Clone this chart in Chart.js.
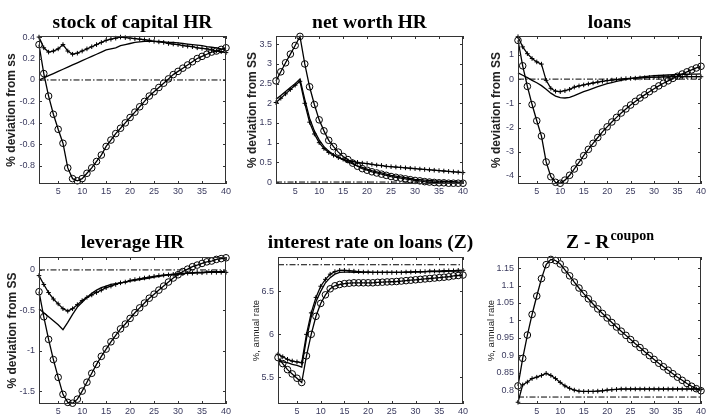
<!DOCTYPE html>
<html>
<head>
<meta charset="utf-8">
<script src="https://cdn.jsdelivr.net/npm/chart.js@4.4.1/dist/chart.umd.min.js"></script>
<style>
  body { margin: 0; background: #fff; }
  #wrap { position: relative; width: 706px; height: 414px; }
  #wrap canvas { position: absolute; left: 0; top: 0; }
</style>
</head>
<body>
<div id="wrap">
  <canvas id="c1" width="706" height="414"></canvas>
  <canvas id="c2" width="706" height="414"></canvas>
  <canvas id="c3" width="706" height="414"></canvas>
  <canvas id="c4" width="706" height="414"></canvas>
  <canvas id="c5" width="706" height="414"></canvas>
  <canvas id="c6" width="706" height="414"></canvas>
</div>
<script>
// quarters after the shock
const periods = [1,2,3,4,5,6,7,8,9,10,11,12,13,14,15,16,17,18,19,20,
                 21,22,23,24,25,26,27,28,29,30,31,32,33,34,35,36,37,38,39,40];
const xTicks = [5, 10, 15, 20, 25, 30, 35, 40];

// stock of capital HR
const capPlain = [0.00,0.02,0.04,0.06,0.08,0.10,0.12,0.14,0.16,0.18,0.20,0.22,0.24,0.26,0.28,0.29,0.30,0.32,0.33,0.34,
                  0.35,0.355,0.36,0.36,0.36,0.36,0.355,0.35,0.35,0.345,0.34,0.335,0.33,0.325,0.32,0.31,0.305,0.30,0.29,0.285];
const capPlus  = [0.40,0.30,0.26,0.27,0.29,0.33,0.27,0.24,0.25,0.27,0.29,0.31,0.33,0.35,0.37,0.38,0.39,0.40,0.395,0.39,
                  0.385,0.38,0.375,0.37,0.36,0.355,0.35,0.34,0.335,0.33,0.32,0.315,0.31,0.30,0.295,0.29,0.28,0.27,0.265,0.255];
const capCirc  = [0.33,0.06,-0.15,-0.32,-0.46,-0.59,-0.82,-0.92,-0.94,-0.92,-0.87,-0.82,-0.76,-0.70,-0.62,-0.56,-0.50,-0.45,-0.40,-0.35,
                  -0.30,-0.25,-0.20,-0.15,-0.11,-0.07,-0.03,0.01,0.05,0.08,0.11,0.14,0.17,0.20,0.22,0.24,0.26,0.27,0.285,0.30];

// net worth HR
const nwPlain = [2.10,2.20,2.30,2.40,2.50,2.62,2.10,1.62,1.30,1.07,0.90,0.78,0.70,0.63,0.57,0.51,0.46,0.41,0.37,0.33,
                 0.29,0.26,0.23,0.20,0.17,0.15,0.13,0.11,0.09,0.07,0.06,0.05,0.04,0.03,0.02,0.02,0.01,0.01,0.00,0.00];
const nwPlus  = [2.02,2.13,2.24,2.35,2.46,2.56,2.00,1.52,1.22,1.00,0.85,0.75,0.68,0.62,0.58,0.54,0.52,0.50,0.48,0.47,
                 0.45,0.43,0.42,0.40,0.39,0.38,0.37,0.36,0.35,0.34,0.33,0.32,0.31,0.30,0.29,0.28,0.27,0.26,0.25,0.24];
const nwCirc  = [2.57,2.80,3.03,3.25,3.47,3.70,3.00,2.42,1.97,1.58,1.30,1.06,0.90,0.76,0.65,0.57,0.48,0.40,0.34,0.30,
                 0.26,0.23,0.20,0.17,0.14,0.12,0.10,0.08,0.06,0.04,0.03,0.01,0.00,-0.01,-0.02,-0.02,-0.03,-0.03,-0.03,-0.03];

// loans
const lnPlain = [0.26,0.16,0.06,-0.05,-0.15,-0.27,-0.42,-0.58,-0.70,-0.76,-0.78,-0.75,-0.68,-0.60,-0.52,-0.45,-0.38,-0.31,-0.25,-0.19,
                 -0.14,-0.09,-0.05,-0.01,0.02,0.05,0.08,0.10,0.12,0.14,0.15,0.16,0.17,0.18,0.19,0.20,0.20,0.21,0.21,0.22];
const lnPlus  = [1.75,1.33,1.05,0.85,0.71,0.62,-0.05,-0.38,-0.50,-0.52,-0.48,-0.42,-0.33,-0.28,-0.24,-0.20,-0.16,-0.12,-0.09,-0.06,
                 -0.04,-0.02,0.00,0.02,0.03,0.04,0.05,0.06,0.07,0.08,0.08,0.09,0.09,0.10,0.10,0.10,0.10,0.10,0.10,0.10];
const lnCirc  = [1.60,0.55,-0.30,-1.05,-1.72,-2.35,-3.42,-4.03,-4.26,-4.30,-4.17,-3.97,-3.71,-3.44,-3.16,-2.90,-2.65,-2.41,-2.18,-1.97,
                 -1.77,-1.58,-1.40,-1.23,-1.07,-0.92,-0.78,-0.65,-0.52,-0.40,-0.28,-0.17,-0.07,0.03,0.12,0.21,0.30,0.38,0.46,0.53];

// leverage HR
const lvPlain = [-0.48,-0.53,-0.58,-0.63,-0.68,-0.74,-0.65,-0.55,-0.46,-0.40,-0.34,-0.29,-0.25,-0.22,-0.20,-0.18,-0.17,-0.16,-0.15,-0.14,
                 -0.13,-0.12,-0.11,-0.10,-0.09,-0.08,-0.07,-0.06,-0.055,-0.05,-0.045,-0.04,-0.035,-0.03,-0.03,-0.025,-0.02,-0.02,-0.02,-0.02];
const lvPlus  = [-0.07,-0.18,-0.28,-0.36,-0.42,-0.48,-0.51,-0.48,-0.43,-0.38,-0.34,-0.31,-0.28,-0.25,-0.22,-0.20,-0.18,-0.16,-0.15,-0.13,
                 -0.12,-0.11,-0.10,-0.09,-0.08,-0.07,-0.065,-0.06,-0.055,-0.05,-0.045,-0.04,-0.04,-0.035,-0.035,-0.03,-0.03,-0.03,-0.03,-0.03];
const lvCirc  = [-0.27,-0.58,-0.86,-1.11,-1.33,-1.54,-1.64,-1.65,-1.60,-1.50,-1.39,-1.28,-1.17,-1.07,-0.98,-0.89,-0.81,-0.73,-0.67,-0.60,
                 -0.53,-0.47,-0.41,-0.35,-0.30,-0.25,-0.20,-0.15,-0.10,-0.06,-0.02,0.01,0.04,0.06,0.08,0.10,0.11,0.13,0.14,0.15];

// interest rate on loans (Z)
const zPlain = [5.69,5.68,5.67,5.65,5.64,5.62,5.95,6.20,6.38,6.50,6.60,6.66,6.70,6.72,6.725,6.725,6.72,6.72,6.72,6.72,
                6.72,6.72,6.72,6.72,6.72,6.72,6.72,6.72,6.725,6.725,6.725,6.73,6.73,6.73,6.73,6.73,6.735,6.735,6.735,6.74];
const zPlus  = [5.77,5.74,5.71,5.69,5.68,5.67,6.00,6.25,6.43,6.56,6.64,6.70,6.73,6.745,6.745,6.74,6.735,6.73,6.725,6.725,
                6.72,6.72,6.72,6.72,6.72,6.72,6.72,6.725,6.725,6.73,6.73,6.73,6.735,6.735,6.735,6.74,6.74,6.74,6.745,6.745];
const zCirc  = [5.73,5.66,5.59,5.54,5.49,5.44,5.75,6.00,6.21,6.36,6.46,6.53,6.565,6.58,6.59,6.595,6.60,6.60,6.60,6.60,
                6.60,6.605,6.607,6.61,6.612,6.615,6.62,6.625,6.63,6.635,6.64,6.645,6.65,6.655,6.66,6.665,6.67,6.68,6.685,6.69];

// Z - R coupon
const spPlus = [0.765,0.815,0.823,0.833,0.837,0.842,0.848,0.842,0.833,0.822,0.812,0.805,0.800,0.797,0.796,0.796,0.796,0.797,0.798,0.800,
                0.801,0.802,0.803,0.803,0.803,0.803,0.803,0.803,0.803,0.803,0.803,0.803,0.803,0.803,0.803,0.803,0.803,0.803,0.803,0.802];
const spCirc = [0.812,0.891,0.958,1.017,1.070,1.120,1.160,1.175,1.172,1.162,1.145,1.128,1.110,1.093,1.077,1.062,1.047,1.033,1.020,1.007,
                0.994,0.981,0.969,0.957,0.945,0.933,0.922,0.910,0.899,0.888,0.877,0.867,0.857,0.847,0.837,0.828,0.819,0.811,0.804,0.798];

const titles  = ['stock of capital HR', 'net worth HR', 'loans', 'leverage HR', 'interest rate on loans (Z)', 'Z - R'];
const titleSup = ['', '', '', '', '', 'coupon'];
const yLabels = ['% deviation from ss', '% deviation from SS', '% deviation from SS',
                 '% deviation from SS', '%, annual rate', '%, annual rate'];
const yMins = [-0.97, -0.05, -4.33, -1.66, 5.19, 0.76];
const yMaxs = [0.41, 3.71, 1.78, 0.16, 6.90, 1.182];
const yTicks = [
  [-0.8, -0.6, -0.4, -0.2, 0, 0.2, 0.4],
  [0, 0.5, 1, 1.5, 2, 2.5, 3, 3.5],
  [-4, -3, -2, -1, 0, 1],
  [-1.5, -1, -0.5, 0],
  [5.5, 6, 6.5],
  [0.8, 0.85, 0.9, 0.95, 1, 1.05, 1.1, 1.15]
];
const refLevels = [0, 0, 0, 0, 6.81, 0.78];   // steady state (dash-dot)
const plainSeries = [capPlain, nwPlain, lnPlain, lvPlain, zPlain, null];
const plusSeries  = [capPlus, nwPlus, lnPlus, lvPlus, zPlus, spPlus];
const circSeries  = [capCirc, nwCirc, lnCirc, lvCirc, zCirc, spCirc];

// plot boxes in page pixels: left, top, right, bottom
const boxes = [
  [39, 36, 226, 184], [276, 36, 463, 184], [518, 36, 705, 184],
  [39, 257, 226, 404], [278, 257, 463, 404], [518, 257, 705, 404]
];
const yLabelX = [12, 253, 497, 13, 256, 491];
const titleY  = [28, 28, 28, 248, 248, 248];

const Y_W = 34, X_H = 16;
const tickFont = { family: 'Liberation Sans', size: 9 };
const tickColor = '#3a3a5e';

const pts = vals => periods.map((p, i) => ({ x: p, y: vals[i] }));
const fmt = v => String(Math.round(v * 1000) / 1000);

// MATLAB-like frame: box, inward ticks, title and y label
const frame = {
  id: 'frame',
  afterDraw(chart, args, o) {
    const { ctx, chartArea: a, scales } = chart;
    ctx.save();
    ctx.strokeStyle = '#333';
    ctx.lineWidth = 1;
    ctx.strokeRect(Math.round(a.left) + 0.5, Math.round(a.top) + 0.5,
                   Math.round(a.width) - 1, Math.round(a.height) - 1);
    ctx.beginPath();
    scales.x.ticks.forEach(t => {
      const px = Math.round(scales.x.getPixelForValue(t.value)) + 0.5;
      ctx.moveTo(px, a.bottom); ctx.lineTo(px, a.bottom - 3);
      ctx.moveTo(px, a.top); ctx.lineTo(px, a.top + 3);
    });
    scales.y.ticks.forEach(t => {
      const py = Math.round(scales.y.getPixelForValue(t.value)) + 0.5;
      ctx.moveTo(a.left, py); ctx.lineTo(a.left + 3, py);
      ctx.moveTo(a.right, py); ctx.lineTo(a.right - 3, py);
    });
    ctx.stroke();

    // title
    ctx.fillStyle = '#000';
    ctx.textBaseline = 'alphabetic';
    const cx = (a.left + a.right) / 2;
    ctx.font = 'bold 19.5px "Liberation Serif"';
    const w1 = ctx.measureText(o.title).width;
    let w2 = 0;
    if (o.sup) {
      ctx.font = 'bold 14px "Liberation Serif"';
      w2 = ctx.measureText(o.sup).width;
    }
    const x0 = cx - (w1 + w2) / 2;
    ctx.textAlign = 'left';
    ctx.font = 'bold 19.5px "Liberation Serif"';
    ctx.fillText(o.title, x0, o.titleY);
    if (o.sup) {
      ctx.font = 'bold 14px "Liberation Serif"';
      ctx.fillText(o.sup, x0 + w1 + 1, o.titleY - 8);
    }

    // y label
    ctx.translate(o.yLabelX, (a.top + a.bottom) / 2);
    ctx.rotate(-Math.PI / 2);
    ctx.textAlign = 'center';
    ctx.textBaseline = 'middle';
    ctx.fillStyle = '#222';
    ctx.font = o.yBold ? 'bold 12px "Liberation Sans"' : '9.5px "Liberation Sans"';
    ctx.fillText(o.yLabel, 0, 0);
    ctx.restore();
  }
};

function makeChart(i) {
  const [l, t, r, b] = boxes[i];
  const datasets = [{
    data: [{ x: periods[0], y: refLevels[i] }, { x: periods[periods.length - 1], y: refLevels[i] }],
    borderColor: '#000', borderWidth: 1, borderDash: [6, 2, 1.5, 2], pointRadius: 0
  }];
  if (plainSeries[i]) {
    datasets.push({ data: pts(plainSeries[i]), borderColor: '#000', borderWidth: 1.3, pointRadius: 0 });
  }
  datasets.push({
    data: pts(plusSeries[i]), borderColor: '#000', borderWidth: 1.3,
    pointStyle: 'cross', pointRadius: 2.3, pointBorderWidth: 1, pointBorderColor: '#000'
  });
  datasets.push({
    data: pts(circSeries[i]), borderColor: '#000', borderWidth: 1.3,
    pointStyle: 'circle', pointRadius: 3.3, pointBorderWidth: 1,
    pointBorderColor: '#000', pointBackgroundColor: 'rgba(0,0,0,0)'
  });

  new Chart(document.getElementById('c' + (i + 1)), {
    type: 'line',
    data: { datasets: datasets },
    options: {
      responsive: false,
      animation: false,
      events: [],
      layout: { padding: { left: l - Y_W, top: t, right: 706 - r, bottom: 414 - b - X_H } },
      datasets: { line: { tension: 0, clip: false } },
      plugins: {
        legend: { display: false },
        tooltip: { enabled: false },
        frame: {
          title: titles[i], sup: titleSup[i], titleY: titleY[i],
          yLabel: yLabels[i], yLabelX: yLabelX[i], yBold: i < 4
        }
      },
      scales: {
        x: {
          type: 'linear', min: periods[0], max: periods[periods.length - 1],
          grid: { display: false, drawTicks: false },
          border: { display: false },
          ticks: { font: tickFont, color: tickColor, padding: 2, maxRotation: 0, autoSkip: false, callback: fmt },
          afterBuildTicks: s => { s.ticks = xTicks.map(v => ({ value: v })); },
          afterFit: s => { s.height = X_H; s.paddingLeft = 0; s.paddingRight = 0; }
        },
        y: {
          min: yMins[i], max: yMaxs[i],
          grid: { display: false, drawTicks: false },
          border: { display: false },
          ticks: { font: tickFont, color: tickColor, padding: 4, autoSkip: false, callback: fmt },
          afterBuildTicks: s => { s.ticks = yTicks[i].map(v => ({ value: v })); },
          afterFit: s => { s.width = Y_W; s.paddingTop = 0; s.paddingBottom = 0; }
        }
      }
    },
    plugins: [frame]
  });
}

for (let i = 0; i < 6; i++) makeChart(i);
</script>
</body>
</html>
